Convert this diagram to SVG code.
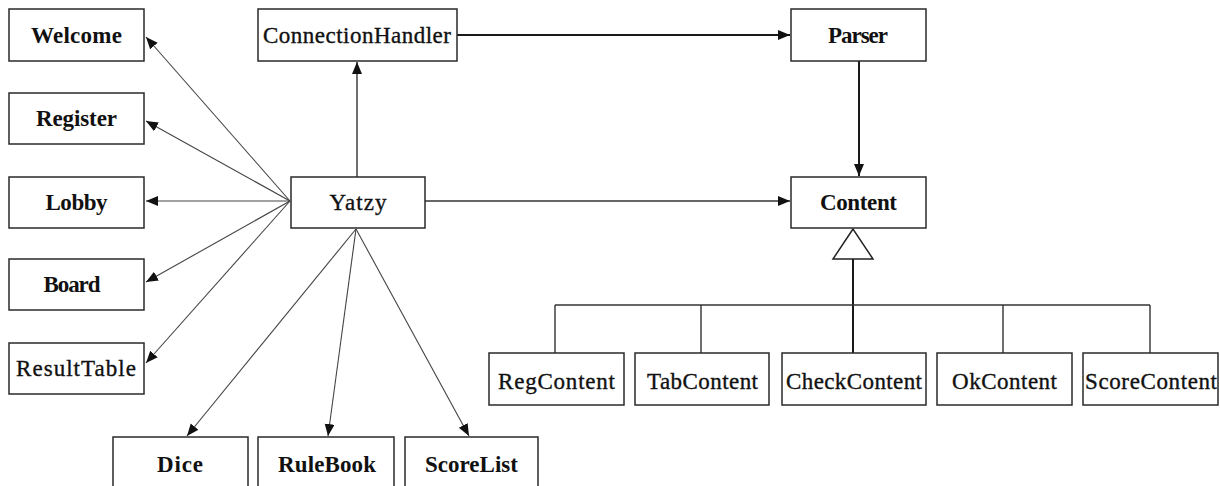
<svg xmlns="http://www.w3.org/2000/svg" width="1220" height="486" viewBox="0 0 1220 486">
  <style>
    .box { fill: #ffffff; stroke: #2a2a2a; stroke-width: 1.5; }
    .lbl { font-family: "Liberation Serif", "Times New Roman", serif; font-size: 23px; fill: #111; stroke: #111; stroke-width: 0.35; text-anchor: middle; }
    .b { font-weight: bold; stroke-width: 0; }
    .thin { fill: none; stroke: #444; stroke-width: 1.1; }
    .thick { fill: none; stroke: #1a1a1a; stroke-width: 2; }
    .mid { fill: none; stroke: #333; stroke-width: 1.4; }
  </style>
  <defs>
    <marker id="arrow" markerUnits="userSpaceOnUse" markerWidth="13" markerHeight="11" refX="12" refY="5" orient="auto">
      <path d="M0,0 L12,5 L0,10 Z" fill="#111"/>
    </marker>
  </defs>

  <rect width="1220" height="486" fill="#ffffff"/>

  <!-- connectors -->
  <g id="connectors">
    <!-- Yatzy fan to the left-hand screens -->
    <line class="thin" x1="290" y1="201" x2="146" y2="37" marker-end="url(#arrow)"/>
    <line class="thin" x1="290" y1="201" x2="146" y2="121" marker-end="url(#arrow)"/>
    <line class="thin" x1="290" y1="201" x2="146" y2="201" marker-end="url(#arrow)"/>
    <line class="thin" x1="290" y1="201" x2="146" y2="282" marker-end="url(#arrow)"/>
    <line class="thin" x1="290" y1="201" x2="146" y2="363" marker-end="url(#arrow)"/>
    <!-- Yatzy fan downwards -->
    <line class="thin" x1="356" y1="229" x2="187" y2="436" marker-end="url(#arrow)"/>
    <line class="thin" x1="356" y1="229" x2="328" y2="436" marker-end="url(#arrow)"/>
    <line class="thin" x1="356" y1="229" x2="469" y2="436" marker-end="url(#arrow)"/>
    <!-- Yatzy to ConnectionHandler and Content -->
    <line class="mid" x1="357" y1="177" x2="357" y2="62" marker-end="url(#arrow)"/>
    <line class="mid" x1="425" y1="201" x2="790" y2="201" marker-end="url(#arrow)"/>
    <!-- ConnectionHandler to Parser, Parser to Content -->
    <line class="thick" x1="457" y1="35" x2="790" y2="35" marker-end="url(#arrow)"/>
    <line class="thick" x1="859" y1="61" x2="859" y2="176" marker-end="url(#arrow)"/>
    <!-- generalisation tree under Content -->
    <polygon points="853,229 833,259 873,259" fill="#ffffff" stroke="#222" stroke-width="1.5"/>
    <line class="thick" x1="853" y1="259" x2="853" y2="353"/>
    <line class="mid" x1="555" y1="305" x2="1150" y2="305"/>
    <line class="mid" x1="555" y1="305" x2="555" y2="353"/>
    <line class="mid" x1="701" y1="305" x2="701" y2="353"/>
    <line class="mid" x1="1003" y1="305" x2="1003" y2="353"/>
    <line class="mid" x1="1150" y1="305" x2="1150" y2="353"/>
  </g>

  <g id="welcome"><rect class="box" x="9" y="9" width="135" height="52"/><text class="lbl b" x="76.5" y="43" textLength="91" lengthAdjust="spacing">Welcome</text></g>
  <g id="register"><rect class="box" x="9" y="93" width="135" height="51"/><text class="lbl b" x="76.5" y="126" textLength="81" lengthAdjust="spacing">Register</text></g>
  <g id="lobby"><rect class="box" x="9" y="177" width="135" height="51"/><text class="lbl b" x="76.5" y="210" textLength="62" lengthAdjust="spacing">Lobby</text></g>
  <g id="board"><rect class="box" x="9" y="259" width="135" height="51"/><text class="lbl b" x="72" y="292" textLength="57" lengthAdjust="spacing">Board</text></g>
  <g id="resulttable"><rect class="box" x="9" y="343" width="135" height="51"/><text class="lbl" x="76" y="376" textLength="120" lengthAdjust="spacing">ResultTable</text></g>

  <g id="connectionhandler"><rect class="box" x="258" y="9" width="199" height="52"/><text class="lbl" x="357" y="43" textLength="188" lengthAdjust="spacing">ConnectionHandler</text></g>
  <g id="yatzy"><rect class="box" x="291" y="177" width="134" height="51"/><text class="lbl" x="358" y="210" textLength="57" lengthAdjust="spacing">Yatzy</text></g>
  <g id="parser"><rect class="box" x="791" y="9" width="135" height="52"/><text class="lbl b" x="858" y="43" textLength="60" lengthAdjust="spacing">Parser</text></g>
  <g id="content"><rect class="box" x="791" y="177" width="135" height="51"/><text class="lbl b" x="858.5" y="210" textLength="77" lengthAdjust="spacing">Content</text></g>

  <g id="dice"><rect class="box" x="113" y="437" width="135" height="60"/><text class="lbl b" x="180" y="472" textLength="46" lengthAdjust="spacing">Dice</text></g>
  <g id="rulebook"><rect class="box" x="258" y="437" width="136" height="60"/><text class="lbl b" x="327" y="472" textLength="98" lengthAdjust="spacing">RuleBook</text></g>
  <g id="scorelist"><rect class="box" x="405" y="437" width="133" height="60"/><text class="lbl b" x="471.5" y="472" textLength="93" lengthAdjust="spacing">ScoreList</text></g>

  <g id="regcontent"><rect class="box" x="489" y="353" width="135" height="52"/><text class="lbl" x="556.5" y="389" textLength="117" lengthAdjust="spacing">RegContent</text></g>
  <g id="tabcontent"><rect class="box" x="635" y="353" width="134" height="52"/><text class="lbl" x="702.5" y="389" textLength="111" lengthAdjust="spacing">TabContent</text></g>
  <g id="checkcontent"><rect class="box" x="782" y="353" width="144" height="52"/><text class="lbl" x="854" y="389" textLength="136" lengthAdjust="spacing">CheckContent</text></g>
  <g id="okcontent"><rect class="box" x="937" y="353" width="135" height="52"/><text class="lbl" x="1004.5" y="389" textLength="105" lengthAdjust="spacing">OkContent</text></g>
  <g id="scorecontent"><rect class="box" x="1083" y="353" width="135" height="52"/><text class="lbl" x="1151" y="389" textLength="132" lengthAdjust="spacing">ScoreContent</text></g>
</svg>
